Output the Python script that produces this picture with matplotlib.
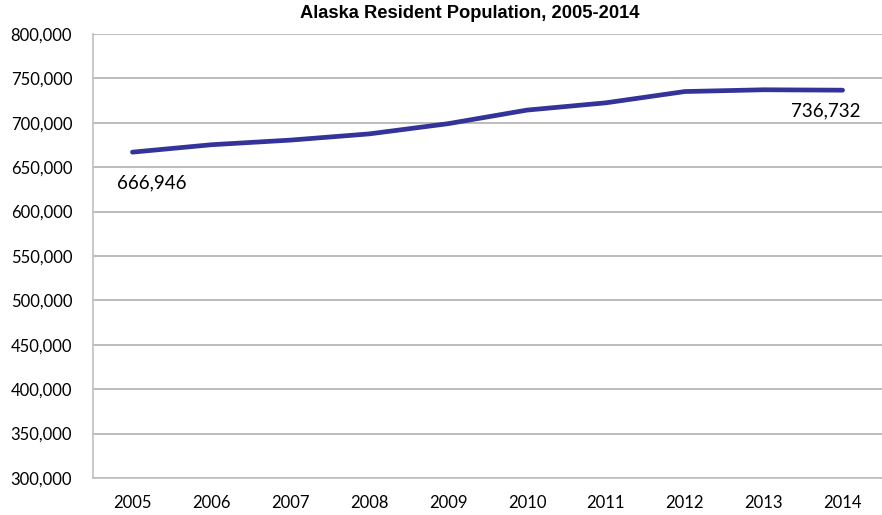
import matplotlib.pyplot as plt
from matplotlib.ticker import FuncFormatter

years = ['2005', '2006', '2007', '2008', '2009', '2010', '2011', '2012', '2013', '2014']
population = [666946, 675300, 680500, 687500, 699000, 714300, 722500, 735200, 737200, 736732]

plt.rcParams['font.family'] = ['Lato', 'DejaVu Sans']

fig = plt.figure(figsize=(8.82, 5.15), dpi=100)
ax = fig.add_axes([93 / 882, 1 - 478 / 515, 1 - 93 / 882, (478 - 34) / 515])

x = list(range(len(years)))
ax.plot(x, population, color='#333399', linewidth=3.4, solid_capstyle='round')

ax.set_xlim(-0.5, len(years) - 0.5)
ax.set_ylim(300000, 800000)
ax.set_yticks(range(300000, 800001, 50000))
ax.yaxis.set_major_formatter(FuncFormatter(lambda v, p: '{:,.0f}'.format(v)))
ax.set_xticks(x)
ax.set_xticklabels(years)
ax.tick_params(axis='both', length=0, labelsize=12, colors='black')
ax.tick_params(axis='y', pad=15)
ax.tick_params(axis='x', pad=12)

ax.grid(axis='y', color='#b0b0b0', linewidth=1.2)
ax.set_axisbelow(True)
for s in ['top', 'right']:
    ax.spines[s].set_visible(False)
for s in ['left', 'bottom']:
    ax.spines[s].set_color('#bfbfbf')
    ax.spines[s].set_linewidth(1.2)

# data labels for first and last points
ax.annotate('{:,}'.format(population[0]), (x[0], population[0]), xytext=(-11, -22),
            textcoords='offset points', fontsize=13.5, ha='left', va='center')
ax.annotate('{:,}'.format(population[-1]), (x[-1], population[-1]), xytext=(-12, -15),
            textcoords='offset points', fontsize=13.5, ha='center', va='center')

fig.text(470 / 882, 1 - 14 / 515, 'Alaska Resident Population, 2005-2014', ha='center', va='center',
         fontsize=13.2, fontweight='bold', family=['Liberation Sans', 'DejaVu Sans'])

fig.savefig('out.png', dpi=100)
